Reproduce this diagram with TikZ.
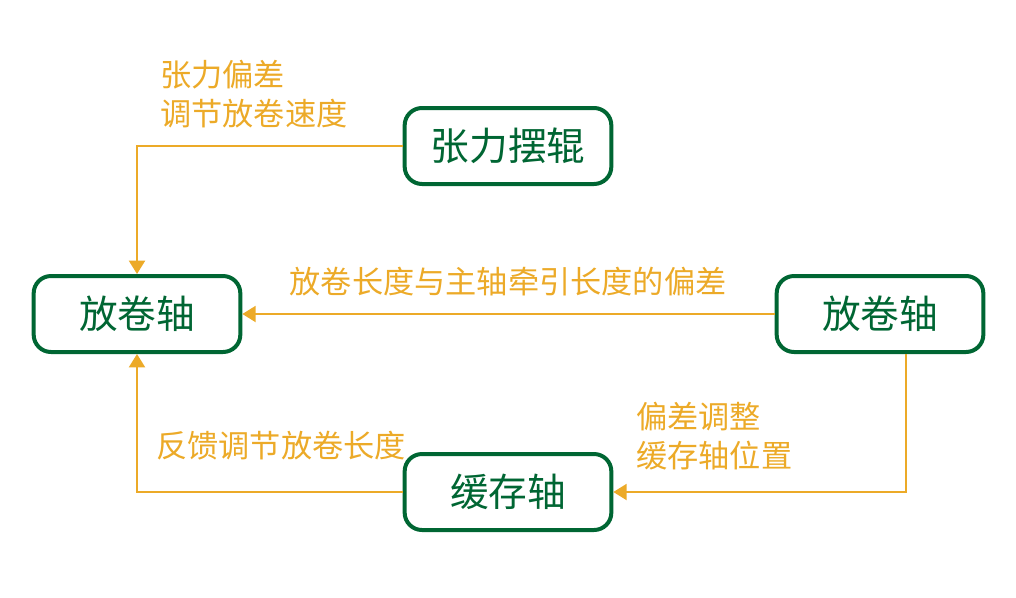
\documentclass[tikz,border=0pt]{standalone}
\usepackage{fontspec}
\setmainfont{Noto Sans CJK SC}
\usetikzlibrary{arrows.meta}
\definecolor{boxgreen}{RGB}{0,102,51}
\definecolor{arrorange}{RGB}{236,170,40}
\tikzset{
  box/.style={draw=boxgreen, line width=3pt, rounded corners=13pt, fill=white,
    minimum width=155pt, minimum height=57pt, inner sep=0pt,
    text=boxgreen, font=\fontsize{29}{33}\selectfont},
  conn/.style={draw=arrorange, line width=1.5pt, -{Triangle[width=12pt,length=10pt]}},
  lbl/.style={text=arrorange, font=\fontsize{23.4}{29}\selectfont, inner sep=0pt, align=left}
}
\begin{document}
\begin{tikzpicture}[x=0.75pt,y=-0.75pt]
\useasboundingbox (0,0) rectangle (1016,597);
\node[box] (zl) at (508,146) {张力摆辊};
\node[box] (fl) at (137,314) {放卷轴};
\node[box] (fr) at (880,314) {放卷轴};
\node[box] (hc) at (508,492) {缓存轴};
\draw[conn] (zl.west) -| (fl.north);
\draw[conn] (fr.west) -- (fl.east);
\draw[conn] ([xshift=19.5pt]fr.south) |- (hc.east);
\draw[conn] (hc.west) -| (fl.south);
\node[lbl, anchor=west] (l1) at (160,94) {张力偏差\\调节放卷速度};
\node[lbl] (l2) at (508,282) {放卷长度与主轴牵引长度的偏差};
\node[lbl, anchor=west] (l3) at (636,436) {偏差调整\\缓存轴位置};
\node[lbl] (l4) at (281,446) {反馈调节放卷长度};
\end{tikzpicture}
\end{document}
